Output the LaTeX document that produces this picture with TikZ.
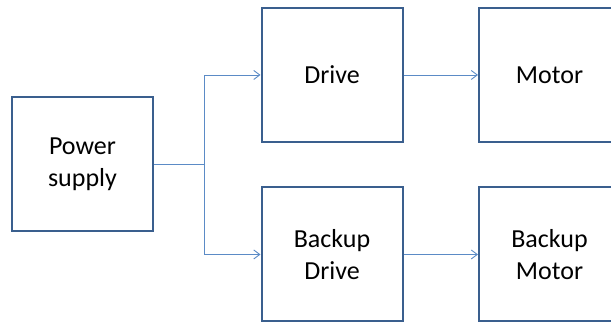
\documentclass[tikz,border=0pt]{standalone}
\usepackage{fontspec}
\setmainfont{Carlito}
\usetikzlibrary{arrows.meta}
\definecolor{boxedge}{HTML}{3A5F8E}
\definecolor{wire}{HTML}{5B8BC6}
\tikzset{
  block/.style={draw=boxedge, line width=2pt, fill=white, minimum width=141pt,
    minimum height=134pt, inner sep=0pt, align=center,
    font=\fontsize{26}{32}\selectfont},
  conn/.style={draw=wire, line width=0.9pt,
    -{Straight Barb[length=6pt,width=9pt,line width=0.9pt]}},
  plain/.style={draw=wire, line width=0.9pt}
}
\begin{document}
\begin{tikzpicture}[x=1pt,y=1pt]
  \useasboundingbox (0,0) rectangle (611,323);
  \clip (0,0) rectangle (611,323);
  % supply and the two drive chains
  \node[block] (ps) at (82.5,159) {Power\\supply};
  \node[block] (drive) at (332,248) {Drive};
  \node[block] (bdrive) at (332,68.5) {Backup\\Drive};
  \node[block] (motor) at (549.5,248) {Motor};
  \node[block] (bmotor) at (549.5,68.5) {Backup\\Motor};
  % branch point of the supply line
  \coordinate (split) at (204,159);
  \draw[plain] (ps.east) -- (split);
  \draw[conn] (split) |- (drive.west);
  \draw[conn] (split) |- (bdrive.west);
  \draw[conn] (drive.east) -- (motor.west);
  \draw[conn] (bdrive.east) -- (bmotor.west);
\end{tikzpicture}
\end{document}
